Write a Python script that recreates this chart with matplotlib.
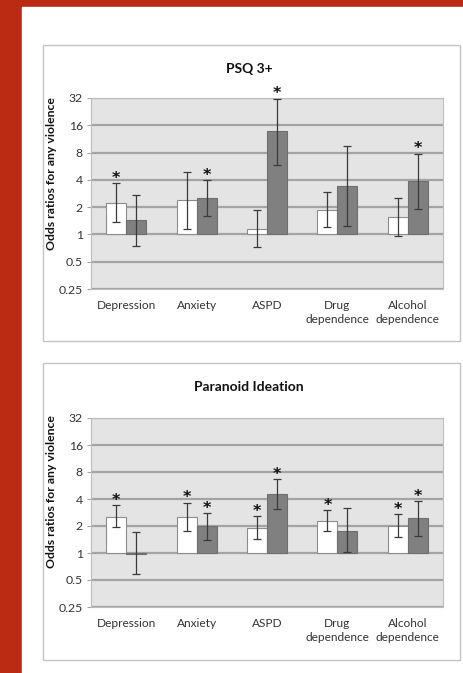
import numpy as np
import matplotlib
matplotlib.use("Agg")
import matplotlib.pyplot as plt
from matplotlib.patches import Rectangle

categories = ["Depression", "Anxiety", "ASPD", "Drug\ndependence", "Alcohol\ndependence"]
y_ticks = [0.25, 0.5, 1, 2, 4, 8, 16, 32]
y_tick_labels = ["0.25", "0.5", "1", "2", "4", "8", "16", "32"]

# PSQ 3+ : white bars / grey bars, with CI bounds
psq_white = [2.24, 2.38, 1.15, 1.84, 1.55]
psq_white_lo = [1.36, 1.14, 0.72, 1.20, 0.96]
psq_white_hi = [3.67, 4.90, 1.84, 2.92, 2.54]
psq_white_star = [True, False, False, False, False]
psq_grey = [1.45, 2.54, 14.0, 3.46, 3.89]
psq_grey_lo = [0.74, 1.58, 5.85, 1.24, 1.89]
psq_grey_hi = [2.73, 4.00, 31.5, 9.50, 7.80]
psq_grey_star = [False, True, True, False, True]

# Paranoid ideation
par_white = [2.55, 2.55, 1.91, 2.30, 2.00]
par_white_lo = [1.95, 1.77, 1.43, 1.76, 1.52]
par_white_hi = [3.44, 3.65, 2.58, 3.00, 2.73]
par_white_star = [True, True, True, True, True]
par_grey = [0.98, 2.00, 4.52, 1.78, 2.43]
par_grey_lo = [0.58, 1.39, 3.08, 1.02, 1.56]
par_grey_hi = [1.71, 2.80, 6.64, 3.16, 3.78]
par_grey_star = [False, True, True, False, True]

W, H = 463, 673
fig = plt.figure(figsize=(W / 100, H / 100), dpi=100)
plt.rcParams["font.family"] = ["Lato", "DejaVu Sans"]

# red slide background and white panel
fig.patches.append(Rectangle((0, 0), 1, 1, transform=fig.transFigure,
                             color="#bb2a12", zorder=-10))
fig.patches.append(Rectangle((22 / W, 0), 1, 1 - 7 / H, transform=fig.transFigure,
                             color="white", zorder=-9))


def px_box(x0, y0, x1, y1):
    return Rectangle((x0 / W, 1 - y1 / H), (x1 - x0) / W, (y1 - y0) / H,
                     transform=fig.transFigure, facecolor="white",
                     edgecolor="#c4c4c4", linewidth=1.0, zorder=-8)


def draw_panel(box, axes_px, title, title_y, ylabel_y, white, wlo, whi, wstar,
               grey, glo, ghi, gstar):
    fig.patches.append(px_box(*box))
    x0, y0, x1, y1 = axes_px
    ax = fig.add_axes([x0 / W, 1 - y1 / H, (x1 - x0) / W, (y1 - y0) / H])
    ax.set_facecolor("#e4e4e4")
    ax.set_yscale("log", base=2)
    ax.set_ylim(0.25, 32)
    ax.set_xlim(-0.5, len(categories) - 0.5)
    ax.set_yticks(y_ticks)
    ax.set_yticklabels(y_tick_labels)
    ax.minorticks_off()
    ax.grid(axis="y", color="#a4a4a4", linewidth=1.6, zorder=0)
    ax.set_axisbelow(True)
    for s in ax.spines.values():
        s.set_color("#bdbdbd")
        s.set_linewidth(0.8)
    ax.tick_params(axis="y", length=3, color="#a4a4a4", labelsize=8.8,
                   labelcolor="#333333", pad=3)
    ax.tick_params(axis="x", length=0, labelsize=8.6, labelcolor="#333333", pad=8)
    x = np.arange(len(categories))
    bw = 0.284
    xw = x - bw / 2
    xg = x + bw / 2
    ax.bar(xw, np.array(white) - 1, bottom=1, width=bw, color="white",
           edgecolor="#8c8c8c", linewidth=0.8, zorder=2)
    ax.bar(xg, np.array(grey) - 1, bottom=1, width=bw, color="#808080",
           edgecolor="#6e6e6e", linewidth=0.8, zorder=2)
    for xs, v, lo, hi, st in ((xw, white, wlo, whi, wstar), (xg, grey, glo, ghi, gstar)):
        v = np.array(v)
        yerr = [v - np.array(lo), np.array(hi) - v]
        ax.errorbar(xs, v, yerr=yerr, fmt="none", ecolor="#3a3a3a",
                    elinewidth=0.9, capsize=3, capthick=0.9, zorder=3)
        for xi, h, s in zip(xs, hi, st):
            if s:
                ax.annotate("*", (xi, h), xytext=(0, -2), textcoords="offset points",
                            ha="center", va="bottom", fontsize=11.5,
                            fontweight="bold", color="#111111",
                            family="DejaVu Sans", zorder=4)
    ax.set_xticks(x)
    ax.set_xticklabels(categories, linespacing=1.35)
    fig.text((box[0] + box[2]) / 2 / W - 0.005, 1 - title_y / H, title,
             ha="center", va="center", fontsize=10, fontweight="bold",
             color="#111111")
    fig.text(52 / W, 1 - ylabel_y / H, "Odds ratios for any violence",
             rotation=90, ha="center", va="center", fontsize=8.8,
             fontweight="bold", color="#111111")
    return ax


draw_panel((43, 45, 460, 341), (91, 98, 443, 289), "PSQ 3+", 69, 174,
           psq_white, psq_white_lo, psq_white_hi, psq_white_star,
           psq_grey, psq_grey_lo, psq_grey_hi, psq_grey_star)
draw_panel((43, 363, 460, 660), (91, 418, 443, 607), "Paranoid Ideation", 387, 492,
           par_white, par_white_lo, par_white_hi, par_white_star,
           par_grey, par_grey_lo, par_grey_hi, par_grey_star)

fig.savefig("out.png", dpi=100)
